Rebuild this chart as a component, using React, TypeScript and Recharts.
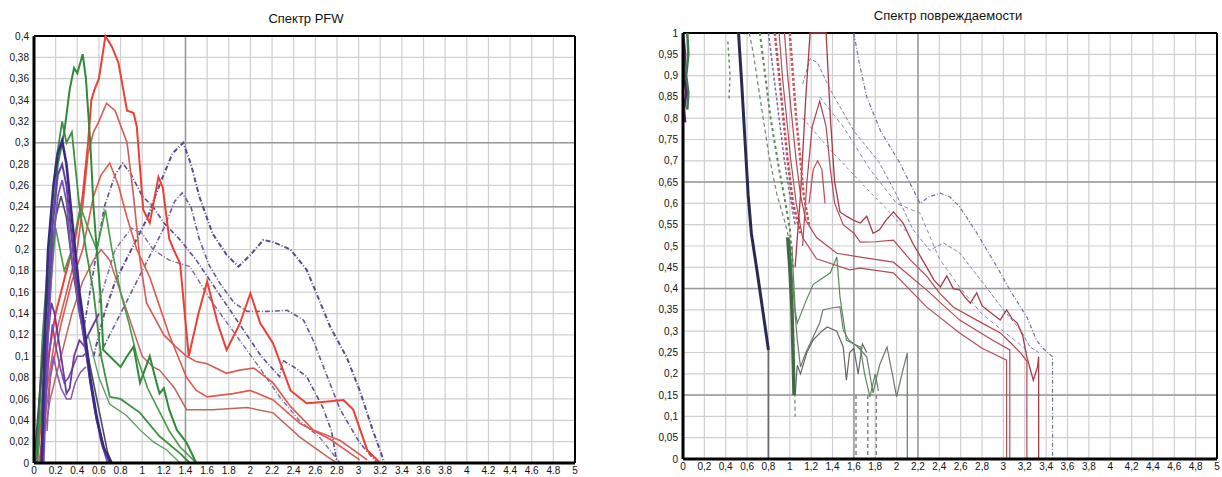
import React from 'react';
import { LineChart, Line, XAxis, YAxis, CartesianGrid, ReferenceLine } from 'recharts';

// --- axis ticks ---
const xTicks = [0, 0.2, 0.4, 0.6, 0.8, 1, 1.2, 1.4, 1.6, 1.8, 2, 2.2, 2.4, 2.6, 2.8, 3, 3.2, 3.4, 3.6, 3.8, 4, 4.2, 4.4, 4.6, 4.8, 5];
const pfwTicks = [0, 0.02, 0.04, 0.06, 0.08, 0.1, 0.12, 0.14, 0.16, 0.18, 0.2, 0.22, 0.24, 0.26, 0.28, 0.3, 0.32, 0.34, 0.36, 0.38, 0.4];
const dmgTicks = [0, 0.05, 0.1, 0.15, 0.2, 0.25, 0.3, 0.35, 0.4, 0.45, 0.5, 0.55, 0.6, 0.65, 0.7, 0.75, 0.8, 0.85, 0.9, 0.95, 1];

// --- Спектр PFW: [x, y] ---
const pfwRed1 = [[0.03, 0], [0.1, 0.08], [0.2, 0.14], [0.3, 0.18], [0.38, 0.21], [0.45, 0.25], [0.5, 0.3], [0.53, 0.34], [0.56, 0.35], [0.6, 0.36], [0.66, 0.4], [0.72, 0.39], [0.78, 0.375], [0.86, 0.33], [0.92, 0.328], [0.95, 0.315], [1.01, 0.237], [1.07, 0.225], [1.15, 0.268], [1.19, 0.258], [1.25, 0.21], [1.29, 0.2], [1.35, 0.187], [1.43, 0.1], [1.52, 0.14], [1.6, 0.17], [1.7, 0.13], [1.78, 0.106], [1.9, 0.13], [2.0, 0.159], [2.09, 0.131], [2.21, 0.112], [2.37, 0.068], [2.52, 0.056], [2.64, 0.057], [2.86, 0.059], [2.95, 0.05], [3.08, 0.012], [3.2, 0]];
const pfwRed2 = [[0.05, 0], [0.12, 0.07], [0.2, 0.12], [0.3, 0.16], [0.4, 0.2], [0.45, 0.24], [0.5, 0.29], [0.55, 0.31], [0.6, 0.32], [0.67, 0.337], [0.75, 0.33], [0.86, 0.3], [0.92, 0.25], [0.98, 0.19], [1.04, 0.15], [1.12, 0.135], [1.2, 0.12], [1.3, 0.11], [1.41, 0.1], [1.5, 0.095], [1.6, 0.093], [1.78, 0.084], [1.9, 0.087], [2.03, 0.089], [2.21, 0.075], [2.37, 0.053], [2.58, 0.031], [2.83, 0.021], [3.08, 0.003]];
const pfwRed3 = [[0.05, 0], [0.15, 0.08], [0.25, 0.13], [0.35, 0.17], [0.45, 0.2], [0.55, 0.25], [0.62, 0.27], [0.7, 0.281], [0.78, 0.26], [0.86, 0.23], [0.95, 0.2], [1.07, 0.174], [1.15, 0.15], [1.25, 0.12], [1.33, 0.1], [1.41, 0.08], [1.5, 0.068], [1.6, 0.062], [1.84, 0.065], [2.0, 0.068], [2.21, 0.059], [2.46, 0.037], [2.74, 0.022], [3.01, 0.003]];
const pfwRed4 = [[0.05, 0], [0.15, 0.06], [0.25, 0.1], [0.35, 0.14], [0.45, 0.17], [0.55, 0.19], [0.62, 0.2], [0.7, 0.19], [0.8, 0.16], [0.9, 0.13], [1.0, 0.1], [1.1, 0.09], [1.16, 0.087], [1.3, 0.07], [1.41, 0.05], [1.65, 0.05], [1.97, 0.052], [2.21, 0.047], [2.46, 0.024], [2.71, 0.006], [2.8, 0]];
const pfwGreen1 = [[0.02, 0], [0.08, 0.1], [0.15, 0.2], [0.22, 0.28], [0.28, 0.31], [0.33, 0.35], [0.37, 0.37], [0.4, 0.365], [0.45, 0.383], [0.48, 0.36], [0.52, 0.3], [0.55, 0.24], [0.58, 0.2], [0.62, 0.15], [0.64, 0.106], [0.7, 0.1], [0.8, 0.09], [0.86, 0.1], [0.92, 0.109], [0.98, 0.075], [1.07, 0.1], [1.12, 0.08], [1.16, 0.065], [1.2, 0.07], [1.25, 0.05], [1.32, 0.031], [1.41, 0.019], [1.5, 0]];
const pfwGreen2 = [[0.02, 0], [0.08, 0.12], [0.15, 0.22], [0.2, 0.28], [0.26, 0.32], [0.3, 0.3], [0.35, 0.31], [0.42, 0.24], [0.48, 0.2], [0.55, 0.16], [0.62, 0.1], [0.7, 0.062], [0.8, 0.06], [0.98, 0.047], [1.16, 0.025], [1.35, 0.009], [1.44, 0]];
const pfwGreen3 = [[0.03, 0], [0.1, 0.1], [0.2, 0.22], [0.28, 0.18], [0.35, 0.2], [0.43, 0.24], [0.5, 0.22], [0.58, 0.2], [0.66, 0.237], [0.72, 0.2], [0.8, 0.16], [0.88, 0.13], [0.95, 0.1], [1.05, 0.07], [1.15, 0.05], [1.25, 0.03], [1.35, 0.015], [1.5, 0]];
const pfwGreen4 = [[0.5, 0.12], [0.6, 0.08], [0.7, 0.055], [0.85, 0.045], [0.98, 0.031], [1.1, 0.02], [1.23, 0.012], [1.35, 0]];
const pfwNavy = [[0.07, 0], [0.1, 0.12], [0.13, 0.2], [0.18, 0.26], [0.22, 0.29], [0.26, 0.302], [0.3, 0.28], [0.34, 0.24], [0.38, 0.2], [0.42, 0.16], [0.46, 0.131], [0.52, 0.08], [0.58, 0.043], [0.64, 0.015], [0.7, 0.003], [0.72, 0]];
const pfwPurple2 = [[0.08, 0], [0.12, 0.12], [0.17, 0.22], [0.22, 0.27], [0.26, 0.28], [0.3, 0.26], [0.34, 0.22], [0.38, 0.18], [0.42, 0.15], [0.46, 0.12], [0.52, 0.075], [0.58, 0.04], [0.66, 0.01], [0.7, 0]];
const pfwPurple3 = [[0.09, 0], [0.13, 0.12], [0.18, 0.21], [0.22, 0.25], [0.26, 0.265], [0.3, 0.245], [0.34, 0.2], [0.38, 0.17], [0.44, 0.13], [0.5, 0.09], [0.56, 0.05], [0.62, 0.02], [0.68, 0]];
const pfwGray = [[0, 0], [0.04, 0.05], [0.08, 0.1], [0.14, 0.17], [0.2, 0.23], [0.25, 0.25], [0.3, 0.23], [0.36, 0.18], [0.42, 0.14], [0.5, 0.1], [0.6, 0.05], [0.68, 0.01], [0.72, 0]];
const pfwWiggle1 = [[0.08, 0], [0.1, 0.08], [0.13, 0.12], [0.16, 0.15], [0.19, 0.14], [0.22, 0.12], [0.25, 0.1], [0.28, 0.08], [0.3, 0.065], [0.33, 0.07], [0.37, 0.1], [0.42, 0.115], [0.46, 0.11], [0.5, 0.12], [0.55, 0.13], [0.6, 0.14]];
const pfwWiggle2 = [[0.1, 0.05], [0.14, 0.1], [0.17, 0.13], [0.2, 0.11], [0.24, 0.09], [0.28, 0.075], [0.32, 0.08], [0.36, 0.09], [0.4, 0.1], [0.45, 0.1], [0.5, 0.105]];
const pfwWiggle3 = [[0.12, 0.03], [0.15, 0.08], [0.18, 0.1], [0.21, 0.085], [0.25, 0.07], [0.3, 0.06], [0.34, 0.06], [0.38, 0.075], [0.43, 0.085], [0.48, 0.09]];
const pfwDash1 = [[0.55, 0.1], [0.65, 0.14], [0.75, 0.17], [0.85, 0.19], [0.95, 0.21], [1.05, 0.23], [1.12, 0.25], [1.19, 0.268], [1.28, 0.29], [1.38, 0.3], [1.45, 0.28], [1.53, 0.249], [1.65, 0.215], [1.78, 0.195], [1.89, 0.184], [2.0, 0.195], [2.12, 0.209], [2.21, 0.207], [2.37, 0.2], [2.52, 0.181], [2.61, 0.159], [2.74, 0.127], [2.89, 0.099], [3.01, 0.068], [3.13, 0.031], [3.24, 0]];
const pfwDash2 = [[0.6, 0.1], [0.75, 0.13], [0.9, 0.16], [1.05, 0.19], [1.2, 0.22], [1.3, 0.245], [1.37, 0.253], [1.45, 0.24], [1.53, 0.209], [1.62, 0.185], [1.72, 0.168], [1.85, 0.15], [1.97, 0.142], [2.15, 0.142], [2.34, 0.143], [2.49, 0.134], [2.58, 0.115], [2.71, 0.081], [2.83, 0.05], [3.01, 0.019], [3.17, 0]];
const pfwDash3 = [[0.45, 0.12], [0.55, 0.18], [0.65, 0.24], [0.75, 0.27], [0.82, 0.281], [0.9, 0.27], [1.0, 0.25], [1.1, 0.24], [1.2, 0.225], [1.35, 0.209], [1.5, 0.19], [1.7, 0.16], [1.9, 0.13], [2.1, 0.1], [2.27, 0.081], [2.3, 0.096], [2.4, 0.09], [2.52, 0.081], [2.67, 0.052], [2.75, 0.03], [2.8, 0]];
const pfwDash4 = [[0.6, 0.15], [0.75, 0.2], [0.9, 0.22], [1.0, 0.215], [1.1, 0.2], [1.25, 0.19], [1.44, 0.184], [1.65, 0.15], [1.88, 0.118], [2.08, 0.09], [2.27, 0.062], [2.45, 0.04], [2.64, 0.024], [2.83, 0]];

// --- Спектр повреждаемости: [x, y] ---
const dmgNavy = [[0.52, 1], [0.55, 0.88], [0.58, 0.75], [0.61, 0.62], [0.64, 0.53], [0.7, 0.43], [0.75, 0.343], [0.8, 0.256]];
const dmgNavyDrop = [[0.8, 0.256], [0.8, 0]];
const dmgScribble1 = [[0, 1], [0.02, 0.95], [0.01, 0.9], [0.03, 0.86], [0.01, 0.82], [0.02, 0.79]];
const dmgScribble2 = [[0.04, 1], [0.05, 0.95], [0.03, 0.9], [0.05, 0.86], [0.04, 0.82]];
const dmgShort = [[0.42, 0.98], [0.44, 0.9], [0.43, 0.84]];
const dmgGreenDash1 = [[0.62, 1], [0.66, 0.95], [0.72, 0.85], [0.8, 0.72], [0.88, 0.62], [0.95, 0.56], [1.0, 0.51], [1.02, 0.4], [1.04, 0.25], [1.05, 0.1]];
const dmgGreenDash2 = [[0.72, 1], [0.76, 0.92], [0.82, 0.8], [0.9, 0.68], [0.96, 0.6], [1.0, 0.54], [1.03, 0.45]];
const dmgGreenBand = [[0.98, 0.52], [1.0, 0.45], [1.02, 0.35], [1.03, 0.25], [1.04, 0.15]];
const dmgPurpleDash = [[0.8, 1], [0.85, 0.9], [0.9, 0.8], [0.95, 0.7], [1.0, 0.62], [1.05, 0.55]];
const dmgRedDash1 = [[0.86, 1], [0.9, 0.9], [0.94, 0.8], [0.98, 0.7], [1.03, 0.6], [1.1, 0.53]];
const dmgRedDash2 = [[1.0, 1], [1.03, 0.9], [1.06, 0.8], [1.1, 0.7], [1.13, 0.62], [1.18, 0.55]];
const dmgGreen1 = [[1.0, 0.514], [1.03, 0.4], [1.07, 0.28], [1.1, 0.216], [1.15, 0.25], [1.22, 0.287], [1.28, 0.32], [1.31, 0.35], [1.4, 0.355], [1.47, 0.357], [1.5, 0.303], [1.55, 0.28], [1.59, 0.272], [1.65, 0.26], [1.72, 0.24], [1.78, 0.155], [1.84, 0.22], [1.91, 0.263], [1.96, 0.2], [2.0, 0.146], [2.05, 0.2], [2.1, 0.249], [2.1, 0]];
const dmgGreen2 = [[1.02, 0.5], [1.05, 0.35], [1.07, 0.319], [1.15, 0.37], [1.22, 0.41], [1.28, 0.42], [1.38, 0.437], [1.44, 0.474], [1.47, 0.38], [1.53, 0.279], [1.6, 0.27], [1.66, 0.263], [1.7, 0.2], [1.75, 0.146], [1.8, 0.2], [1.83, 0.16]];
const dmgGray = [[1.05, 0.15], [1.07, 0.22], [1.1, 0.2], [1.16, 0.25], [1.22, 0.28], [1.3, 0.3], [1.35, 0.31], [1.44, 0.3], [1.5, 0.263], [1.53, 0.185], [1.56, 0.25], [1.6, 0.26], [1.64, 0.2], [1.68, 0.27], [1.72, 0.25]];
const dmgDrop1 = [[1.62, 0.15], [1.62, 0]];
const dmgDrop2 = [[1.73, 0.15], [1.73, 0]];
const dmgDrop3 = [[1.81, 0.15], [1.81, 0]];
const dmgRed1 = [[1.05, 0.45], [1.1, 0.62], [1.15, 0.85], [1.19, 1], [1.34, 1], [1.38, 0.8], [1.42, 0.65], [1.47, 0.58], [1.53, 0.57], [1.6, 0.56], [1.66, 0.554], [1.72, 0.57], [1.78, 0.53], [1.84, 0.538], [1.9, 0.56], [1.97, 0.58], [2.06, 0.554], [2.15, 0.507], [2.28, 0.451], [2.35, 0.42], [2.41, 0.404], [2.47, 0.43], [2.53, 0.4], [2.59, 0.397], [2.64, 0.38], [2.69, 0.366], [2.75, 0.39], [2.8, 0.36], [2.85, 0.35], [2.9, 0.34], [2.97, 0.326], [3.03, 0.35], [3.08, 0.33], [3.13, 0.319], [3.18, 0.29], [3.22, 0.239], [3.28, 0.185], [3.32, 0.216], [3.33, 0.24], [3.33, 0]];
const dmgRed2 = [[1.12, 0.5], [1.16, 0.65], [1.21, 0.78], [1.28, 0.84], [1.34, 0.78], [1.38, 0.68], [1.42, 0.6], [1.5, 0.55], [1.6, 0.53], [1.66, 0.509], [1.8, 0.51], [1.97, 0.514], [2.13, 0.467], [2.28, 0.43], [2.4, 0.39], [2.53, 0.357], [2.75, 0.326], [2.97, 0.296], [3.08, 0.27], [3.16, 0.249], [3.22, 0.23], [3.22, 0]];
const dmgRed3 = [[0.95, 1], [0.98, 0.9], [1.02, 0.8], [1.06, 0.7], [1.1, 0.62], [1.15, 0.56], [1.25, 0.52], [1.44, 0.483], [1.66, 0.474], [1.97, 0.462], [2.28, 0.397], [2.59, 0.326], [2.9, 0.279], [3.06, 0.256], [3.06, 0]];
const dmgRed4 = [[0.9, 1], [0.93, 0.9], [0.97, 0.8], [1.01, 0.7], [1.06, 0.6], [1.12, 0.52], [1.25, 0.47], [1.56, 0.444], [1.66, 0.448], [1.97, 0.437], [2.28, 0.357], [2.59, 0.296], [2.8, 0.26], [3.03, 0.232], [3.03, 0]];
const dmgRedBump = [[1.18, 0.6], [1.22, 0.68], [1.26, 0.7], [1.3, 0.68], [1.33, 0.6]];
const dmgBlue1 = [[1.6, 1], [1.65, 0.93], [1.72, 0.85], [1.85, 0.77], [2.03, 0.695], [2.12, 0.65], [2.22, 0.6], [2.3, 0.615], [2.41, 0.624], [2.5, 0.615], [2.59, 0.592], [2.75, 0.531], [2.94, 0.451], [3.06, 0.397], [3.22, 0.333], [3.31, 0.279], [3.37, 0.26], [3.46, 0.24], [3.46, 0]];
const dmgBlue2 = [[1.12, 0.88], [1.19, 0.94], [1.26, 0.93], [1.38, 0.866], [1.6, 0.77], [1.84, 0.695], [2.0, 0.62], [2.15, 0.54], [2.31, 0.49], [2.44, 0.507], [2.59, 0.484], [2.81, 0.413], [3.0, 0.35], [3.16, 0.303], [3.25, 0.263], [3.33, 0.25]];
const dmgBlue3 = [[1.28, 0.85], [1.5, 0.78], [1.75, 0.68], [2.0, 0.6], [2.22, 0.577], [2.4, 0.47], [2.6, 0.4], [2.8, 0.34], [3.0, 0.3], [3.2, 0.26]];
const dmgBlue4 = [[1.12, 0.8], [1.4, 0.72], [1.7, 0.64], [1.97, 0.57], [2.1, 0.53]];

const pts = (a: number[][]) => a.map(([x, y]) => ({ x, y }));

const FONT = "'Liberation Sans Narrow', 'Liberation Sans', Arial, sans-serif";

type S = { d: number[][]; c: string; w: number; dash?: string };

const pfwSeries: S[] = [
  { d: pfwDash1, c: '#5d4a8c', w: 2, dash: '5 2 1 2' },
  { d: pfwDash2, c: '#6a5a94', w: 1.6, dash: '5 2 1 2' },
  { d: pfwDash3, c: '#5d4a8c', w: 1.6, dash: '5 2 1 2' },
  { d: pfwDash4, c: '#7a6aa0', w: 1.4, dash: '5 2 1 2' },
  { d: pfwRed4, c: '#c0665e', w: 1.5 },
  { d: pfwRed3, c: '#e0584e', w: 1.6 },
  { d: pfwRed2, c: '#d85a55', w: 1.6 },
  { d: pfwRed1, c: '#ee3e36', w: 2 },
  { d: pfwGreen4, c: '#5a9a5a', w: 1.3 },
  { d: pfwGreen3, c: '#4a9a4a', w: 1.6 },
  { d: pfwGreen2, c: '#3f8f45', w: 1.8 },
  { d: pfwGreen1, c: '#2f8a3a', w: 2 },
  { d: pfwWiggle3, c: '#8a5cb0', w: 1.6 },
  { d: pfwWiggle2, c: '#7d4aa8', w: 1.6 },
  { d: pfwWiggle1, c: '#6a3a9a', w: 1.8 },
  { d: pfwGray, c: '#4a4a5a', w: 1.6 },
  { d: pfwPurple3, c: '#7a55b5', w: 1.8 },
  { d: pfwPurple2, c: '#6640a8', w: 2 },
  { d: pfwNavy, c: '#3a2a80', w: 2.6 },
];

const dmgSeries: S[] = [
  { d: dmgBlue4, c: '#8a8ab0', w: 1, dash: '3 3' },
  { d: dmgBlue3, c: '#8a8ab0', w: 1, dash: '4 3' },
  { d: dmgBlue2, c: '#7f7fb0', w: 1, dash: '4 2' },
  { d: dmgBlue1, c: '#6f6fa8', w: 1.2, dash: '4 2 1 2' },
  { d: dmgRed4, c: '#b0505a', w: 1.2 },
  { d: dmgRed3, c: '#b04a55', w: 1.2 },
  { d: dmgRed2, c: '#b5454f', w: 1.2 },
  { d: dmgRed1, c: '#a83a48', w: 1.3 },
  { d: dmgRedBump, c: '#c04a50', w: 1.2 },
  { d: dmgRedDash1, c: '#c44a55', w: 2.5, dash: '3 2' },
  { d: dmgRedDash2, c: '#c85a5f', w: 2.5, dash: '3 2' },
  { d: dmgPurpleDash, c: '#7a6a9a', w: 1.5, dash: '3 2' },
  { d: dmgGreenDash1, c: '#6a8a6a', w: 1.2, dash: '4 3' },
  { d: dmgGreenDash2, c: '#5a8a5a', w: 2, dash: '3 3' },
  { d: dmgShort, c: '#6a8a6a', w: 1.5, dash: '3 3' },
  { d: dmgDrop1, c: '#888888', w: 1.5, dash: '4 3' },
  { d: dmgDrop2, c: '#888888', w: 1.5, dash: '4 3' },
  { d: dmgDrop3, c: '#888888', w: 1.5, dash: '4 3' },
  { d: dmgGray, c: '#666666', w: 1.2 },
  { d: dmgGreen2, c: '#5a8a5a', w: 1.2 },
  { d: dmgGreen1, c: '#6a7a6a', w: 1.2 },
  { d: dmgGreenBand, c: '#3f6a45', w: 3.5 },
  { d: dmgScribble2, c: '#3a7a4a', w: 2.5 },
  { d: dmgScribble1, c: '#4a2a5a', w: 2.5 },
  { d: dmgNavyDrop, c: '#6a6a6a', w: 1.8 },
  { d: dmgNavy, c: '#2a2a50', w: 3 },
];

const tickStyle = { fontSize: 10, fill: '#111', fontFamily: FONT };

const SpectrumPanel: React.FC<{
  width: number;
  height: number;
  margin: { top: number; right: number; left: number; bottom: number };
  xHeight: number;
  yWidth: number;
  yMax: number;
  yTicks: number[];
  series: S[];
  xFmt: (v: number) => string;
  darkX: number[];
  darkY: number[];
}> = ({ width, height, margin, xHeight, yWidth, yMax, yTicks, series, xFmt, darkX, darkY }) => (
  <LineChart width={width} height={height} margin={margin}>
    <CartesianGrid stroke="#cfcfcf" strokeWidth={1.2} />
    {darkX.map((v) => (
      <ReferenceLine key={`dx${v}`} x={v} stroke="#9a9a9a" strokeWidth={1.5} />
    ))}
    {darkY.map((v) => (
      <ReferenceLine key={`dy${v}`} y={v} stroke="#9a9a9a" strokeWidth={1.5} />
    ))}
    <XAxis
      dataKey="x"
      type="number"
      domain={[0, 5]}
      ticks={xTicks}
      interval={0}
      allowDuplicatedCategory={false}
      tickFormatter={xFmt}
      tick={tickStyle}
      tickSize={0}
      tickMargin={4}
      height={xHeight}
      axisLine={{ stroke: '#000', strokeWidth: 3 }}
    />
    <YAxis
      type="number"
      domain={[0, yMax]}
      ticks={yTicks}
      interval={0}
      tickFormatter={(v: number) => String(v).replace('.', ',')}
      tick={tickStyle}
      tickSize={0}
      tickMargin={5}
      width={yWidth}
      axisLine={{ stroke: '#000', strokeWidth: 3 }}
    />
    <ReferenceLine y={yMax} stroke="#000" strokeWidth={2} />
    <ReferenceLine x={5} stroke="#000" strokeWidth={2} />
    {series.map((s, i) => (
      <Line
        key={i}
        data={pts(s.d)}
        dataKey="y"
        type="linear"
        stroke={s.c}
        strokeWidth={s.w}
        strokeDasharray={s.dash}
        dot={false}
        activeDot={false}
        isAnimationActive={false}
      />
    ))}
  </LineChart>
);

export default function App() {
  return (
    <div style={{ position: 'absolute', left: 0, top: 0, width: 1222, height: 477, background: '#fff', fontFamily: FONT }}>
      <div style={{ position: 'absolute', left: 206, top: 11, width: 200, textAlign: 'center', fontSize: 13, color: '#111' }}>
        Спектр PFW
      </div>
      <div style={{ position: 'absolute', left: 798, top: 8, width: 300, textAlign: 'center', fontSize: 13, color: '#111' }}>
        Спектр повреждаемости
      </div>
      <div style={{ position: 'absolute', left: 0, top: 0 }}>
        <SpectrumPanel
          width={600}
          height={477}
          margin={{ top: 36, right: 25, left: 0, bottom: 0 }}
          xHeight={14}
          yWidth={34}
          yMax={0.4}
          yTicks={pfwTicks}
          series={pfwSeries}
          xFmt={(v) => String(v)}
          darkX={[1.4]}
          darkY={[0.3, 0.24]}
        />
      </div>
      <div style={{ position: 'absolute', left: 630, top: 0 }}>
        <SpectrumPanel
          width={592}
          height={477}
          margin={{ top: 33, right: 5, left: 0, bottom: 0 }}
          xHeight={18}
          yWidth={53}
          yMax={1}
          yTicks={dmgTicks}
          series={dmgSeries}
          xFmt={(v) => String(v).replace('.', ',')}
          darkX={[1.6, 2.2]}
          darkY={[0.65, 0.4, 0.15]}
        />
      </div>
    </div>
  );
}
